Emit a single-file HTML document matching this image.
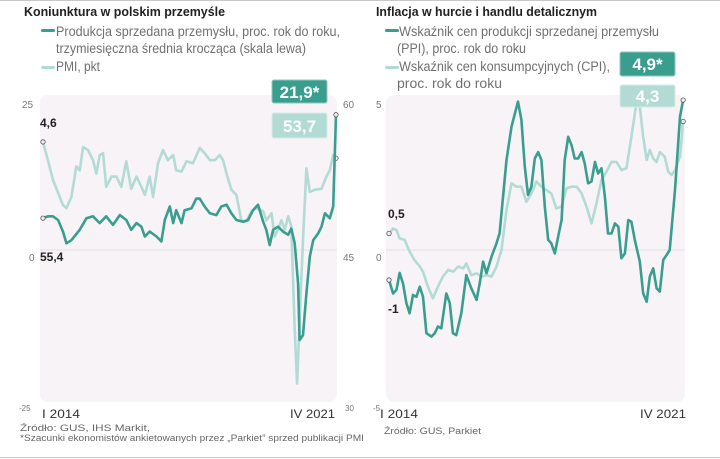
<!DOCTYPE html>
<html><head><meta charset="utf-8"><style>
html,body{margin:0;padding:0;background:#fff;}
svg{display:block;font-family:"Liberation Sans",sans-serif;}
</style></head><body>
<svg id="chart" width="720" height="459" viewBox="0 0 720 459">
<line x1="0" y1="0.5" x2="720" y2="0.5" stroke="#c8c8cc"/>
<line x1="0" y1="457.5" x2="720" y2="457.5" stroke="#c8c8cc"/>
<rect x="40" y="95" width="297" height="307" rx="8" fill="#f7f3f6"/>
<rect x="386" y="95" width="299" height="307" rx="8" fill="#f7f3f6"/>
<line x1="40" y1="250" x2="337" y2="250" stroke="#e6dfe3"/>
<line x1="386" y1="250" x2="685" y2="250" stroke="#e6dfe3"/>

<g fill="#222" font-weight="bold" font-size="13">
<text x="24" y="16" textLength="201" lengthAdjust="spacingAndGlyphs">Koniunktura w polskim przemyśle</text>
<text x="376" y="16" textLength="221" lengthAdjust="spacingAndGlyphs">Inflacja w hurcie i handlu detalicznym</text>
</g>
<g fill="#707070" font-size="13.5">
<rect x="41" y="29" width="14" height="3" rx="1.5" fill="#3a9e8f"/>
<text x="56" y="36" textLength="284" lengthAdjust="spacingAndGlyphs">Produkcja sprzedana przemysłu, proc. rok do roku,</text>
<text x="56" y="53" textLength="250" lengthAdjust="spacingAndGlyphs">trzymiesięczna średnia krocząca (skala lewa)</text>
<rect x="41" y="66" width="14" height="3" rx="1.5" fill="#b3dbd5"/>
<text x="56" y="71" textLength="44" lengthAdjust="spacingAndGlyphs">PMI, pkt</text>
<rect x="385" y="29" width="14" height="3" rx="1.5" fill="#3a9e8f"/>
<text x="399" y="36" textLength="260" lengthAdjust="spacingAndGlyphs">Wskaźnik cen produkcji sprzedanej przemysłu</text>
<text x="397" y="53" textLength="129" lengthAdjust="spacingAndGlyphs">(PPI), proc. rok do roku</text>
<rect x="385" y="66" width="14" height="3" rx="1.5" fill="#b3dbd5"/>
<text x="399" y="71" textLength="211" lengthAdjust="spacingAndGlyphs">Wskaźnik cen konsumpcyjnych (CPI),</text>
<text x="397" y="88" textLength="105" lengthAdjust="spacingAndGlyphs">proc. rok do roku</text>
</g>

<g fill="#777" font-size="10">
<text x="22" y="108">25</text>
<text x="29" y="261">0</text>
<text x="19" y="411" font-size="8">-25</text>
<text x="343" y="108">60</text>
<text x="343" y="261">45</text>
<text x="345" y="411" font-size="8">30</text>
<text x="376" y="108">5</text>
<text x="376" y="261">0</text>
<text x="373" y="411" font-size="8">-5</text>
</g>
<g fill="#222" font-weight="bold" font-size="12">
<text x="40" y="127">4,6</text>
<text x="40" y="261">55,4</text>
<text x="388" y="218">0,5</text>
<text x="388" y="313">-1</text>
</g>
<g fill="#333" font-size="12">
<text x="42" y="418" textLength="38" lengthAdjust="spacingAndGlyphs">I 2014</text>
<text x="290" y="418" textLength="45" lengthAdjust="spacingAndGlyphs">IV 2021</text>
<text x="380" y="418" textLength="38" lengthAdjust="spacingAndGlyphs">I 2014</text>
<text x="640" y="418" textLength="46" lengthAdjust="spacingAndGlyphs">IV 2021</text>
</g>
<g fill="#666" font-size="9">
<text x="20" y="431" textLength="130" lengthAdjust="spacingAndGlyphs">Źródło: GUS, IHS Markit,</text>
<text x="20" y="441" textLength="344" lengthAdjust="spacingAndGlyphs">*Szacunki ekonomistów ankietowanych przez „Parkiet” sprzed publikacji PMI</text>
<text x="384" y="434" textLength="97" lengthAdjust="spacingAndGlyphs">Źródło: GUS, Parkiet</text>
</g>

<g id="series"></g>

<rect x="272" y="80" width="55" height="23" rx="2" fill="#3a9e8f" stroke="#8cc9bf"/>
<text x="299.5" y="98" text-anchor="middle" fill="#fff" font-weight="bold" font-size="17">21,9*</text>
<rect x="272" y="113" width="55" height="25" rx="2" fill="#b3dbd5" stroke="#d6ece8"/>
<text x="299.5" y="132" text-anchor="middle" fill="#fff" font-weight="bold" font-size="17">53,7</text>
<rect x="620" y="52" width="55" height="24" rx="2" fill="#3a9e8f" stroke="#8cc9bf"/>
<text x="647.5" y="70" text-anchor="middle" fill="#fff" font-weight="bold" font-size="17">4,9*</text>
<rect x="620" y="85" width="55" height="22" rx="2" fill="#b3dbd5" stroke="#d6ece8"/>
<text x="647.5" y="102" text-anchor="middle" fill="#fff" font-weight="bold" font-size="17">4,3</text>
</svg>
<script>
// month index (0 = I 2014, 95 = end 2021)
const prodMonths=[0,1.6,3.2,4.9,6.5,7.6,9.2,11.9,14.1,16.2,18.4,20.5,22.7,24.9,27,28.6,30.3,31.9,33,34.6,36.8,38.4,39.5,41.1,42.2,43.2,44.9,45.9,48.1,49.7,50.8,52.4,54.1,56.2,57.8,59.5,61.1,62.7,64.9,66.5,68.1,69.7,71.4,72.4,73.5,74.6,76.2,77.8,79.5,80.5,81.6,82.7,83.2,84.3,85.4,86.5,87.6,89.2,90.3,91.4,93,94.1,95];
const prodValues=[5.2,5.5,5.5,4.9,3.0,1.1,1.6,3.3,5.2,5.5,4.4,5.5,4.1,5.7,4.9,3.3,4.4,3.8,2.2,3.0,2.2,1.4,4.9,7.1,4.4,6.5,4.4,6.5,6.8,8.4,8.4,7.1,6.0,5.7,7.1,7.4,6.0,4.9,4.6,4.9,6.5,7.4,4.6,3.3,0.8,3.3,3.8,3.0,2.5,3.5,1.1,-5.5,-14.7,-13.9,-7.1,-1.1,1.6,2.7,3.8,6.0,5.2,7.1,22.1];
const pmiMonths=[0,1.6,3.2,4.9,6.5,7.6,9.2,10.8,11.9,13,14.6,16.2,17.3,18.4,19.5,20.5,22.2,23.8,25.4,27,28.6,30.3,31.9,33,34.6,35.7,37.3,38.9,40.5,42.2,43.2,44.9,46.5,48.6,50.8,52.4,54.1,55.7,57.3,58.4,59.5,61.1,62.7,64.3,65.9,67.6,69.2,71.4,72.4,74.1,75.1,76.2,77.3,78.4,79.5,80.5,81.6,82.4,83.2,84.3,85.4,86.5,88.1,90.3,91.9,93,94.1,95];
const pmiValues=[55.6,53.8,51.9,50.6,49.4,49.1,50.2,53.2,52.8,55.1,54.8,53.8,52.5,54.3,54.5,51.2,52.2,52.2,51.2,53.7,51.0,52.2,51.2,50.4,52.2,50.2,53.5,54.8,53.8,54.3,52.8,52.7,53.7,53.5,55.0,54.5,53.8,53.8,54.3,53.8,52.5,50.9,50.4,47.9,47.8,48.8,49.1,48.8,47.9,48.6,46.3,47.0,47.9,47.0,48.3,47.3,37.2,31.9,38.1,46.0,53.0,50.7,50.9,51.0,52.2,52.8,54.3,54.0];
const ppiMonths=[0,1.3,2.4,3.4,4.5,5.6,6.6,7.7,8.8,9.9,10.9,12,13.6,14.7,15.7,16.8,18.4,19.5,20.5,21.6,23.2,24.8,26.4,28.1,29.1,30.2,31.3,32.9,34.5,35.5,37.7,39.3,41.4,42.5,43.6,44.6,45.7,46.8,47.9,48.9,50,51.1,52.1,53.2,54.3,55.4,56.4,57.5,58.6,59.6,60.7,61.8,62.8,63.9,65,66.1,67.1,68.2,69.3,70.3,71.4,72.5,73.6,74.6,75.7,76.8,77.8,78.9,80.5,81.6,82.7,83.7,84.8,85.9,86.9,88,89.1,90.1,91.8,93.4,94.4];
const ppiValues=[-0.98,-1.42,-1.3,-0.75,-1.09,-1.74,-2.07,-1.47,-1.53,-1.2,-1.53,-2.72,-2.83,-2.72,-2.5,-2.56,-1.42,-1.74,-2.72,-2.78,-2.07,-0.82,-1.25,-1.63,-1.09,-0.38,-0.76,-0.22,0.22,0.55,2.94,4.03,4.85,4.25,2.72,1.8,2.07,2.99,3.2,2.94,1.42,0.33,0.22,-0.11,0.44,0.98,2.94,3.7,3.42,2.99,2.99,3.2,2.83,2.18,2.24,2.88,2.5,2.67,1.74,0.54,0.54,0.87,0.76,-0.27,-0.11,0.98,0.92,0.33,-0.38,-1.42,-1.69,-0.87,-0.6,-1.25,-1.36,-0.33,-0.16,0,1.96,4.36,4.9];
const cpiMonths=[0,1.3,2.4,3.4,5,6.6,8.2,9.9,10.9,12.5,14.1,15.7,17.3,19,20.6,22.2,23.8,24.8,26.4,28.1,29.7,31.3,32.9,34.5,36.1,37.7,39.3,40.9,42.5,44.1,45.7,47.3,48.9,50.5,52.1,53.7,55.4,57,58.6,60.2,61.8,63.4,65,66.6,68.2,69.8,71.4,73,74.6,76.2,77.8,79.4,80.5,81.6,82.7,83.7,84.8,85.9,86.9,88.5,89.6,90.7,91.8,93.4,94.4];
const cpiValues=[0.54,0.7,0.65,0.38,0.33,-0.05,-0.33,-0.54,-0.71,-1.2,-1.58,-1.2,-0.87,-0.65,-0.71,-0.54,-0.6,-0.44,-0.82,-0.76,-0.87,-0.82,-0.87,-0.54,0,1.31,2.18,2.07,2.07,1.58,1.85,2.24,2.07,1.96,1.85,1.36,1.42,2.02,2.07,2.07,1.85,1.42,0.87,1.53,2.29,2.56,2.88,2.88,2.61,2.67,3.7,4.79,4.68,3.7,2.94,3.27,2.99,2.88,3.2,3.05,2.56,2.45,2.61,3.05,4.2];

const NS='http://www.w3.org/2000/svg';
const xLeft=m=>43+m*(336-43)/95;
const xRight=m=>389+m*(685-389)/95;
const yProd=v=>250-v*6.12;
const yPmi=v=>250-(v-45)*10.2;
const yInf=v=>250-v*30.6;
const g=document.getElementById('series');
function draw(ms,vs,fx,fy,color,name){
  const p=document.createElementNS(NS,'path');
  p.setAttribute('d',ms.map((m,i)=>(i?'L':'M')+fx(m).toFixed(1)+','+fy(vs[i]).toFixed(1)).join(''));
  p.setAttribute('fill','none');p.setAttribute('stroke',color);p.setAttribute('stroke-width','2.6');
  p.setAttribute('stroke-linejoin','round');
  
  
  g.appendChild(p);
  [0,ms.length-1].forEach(i=>{
    const c=document.createElementNS(NS,'circle');
    c.setAttribute('cx',fx(ms[i]));c.setAttribute('cy',fy(vs[i]));c.setAttribute('r','2.2');
    c.setAttribute('fill','#eee');c.setAttribute('stroke','#555');c.setAttribute('stroke-width','0.8');
    
    
    g.appendChild(c);
  });
}
draw(pmiMonths,pmiValues,xLeft,yPmi,'#b3dbd5','pmi-line');
draw(prodMonths,prodValues,xLeft,yProd,'#3a9e8f','production-line');
draw(cpiMonths,cpiValues,xRight,yInf,'#b3dbd5','cpi-line');
draw(ppiMonths,ppiValues,xRight,yInf,'#3a9e8f','ppi-line');
</script>
</body></html>
